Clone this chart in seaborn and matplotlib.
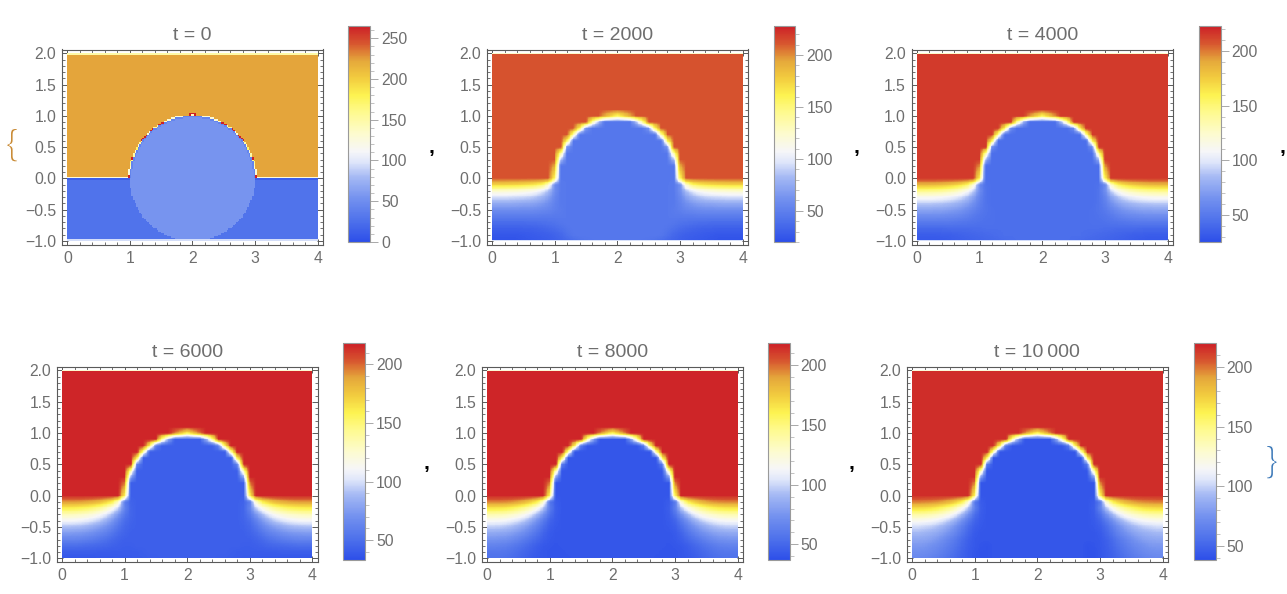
import numpy as np
import pandas as pd
import seaborn as sns
import matplotlib
matplotlib.use("Agg")
import matplotlib.pyplot as plt
import matplotlib.patheffects as pe
from matplotlib.colors import LinearSegmentedColormap

# ---------- values ----------
TITLES = ["t = 0", "t = 2000", "t = 4000", "t = 6000", "t = 8000", "t = 10\u2009000"]
VMIN = [0, 20, 25, 33, 37, 38]
VMAX = [265, 228, 223, 218, 218, 220]
CBAR_TICKS = [[0, 50, 100, 150, 200, 250], [50, 100, 150, 200], [50, 100, 150, 200],
              [50, 100, 150, 200], [50, 100, 150, 200], [50, 100, 150, 200]]
X_TICKS = [0, 1, 2, 3, 4]
Y_TICKS = [-1.0, -0.5, 0.0, 0.5, 1.0, 1.5, 2.0]
Y_LABELS = ["\u22121.0", "\u22120.5", "0.0", "0.5", "1.0", "1.5", "2.0"]

# t = 0 field
T0_TOP, T0_CIRCLE, T0_BOTTOM = 223, 55, 27
# half width of the disc for each 0.025-high row, from y = 0.9875 down to y = 0.0125
T0_HALF = [.158, .271, .348, .409, .461, .506, .546, .583, .616, .647,
           .675, .702, .726, .749, .770, .790, .809, .827, .843, .859,
           .873, .887, .899, .911, .922, .932, .941, .950, .958, .965,
           .971, .977, .982, .987, .990, .994, .996, .998, .999, 1.0]
# value of the thin rim, per 0.05-high row from y = 0.975 down
T0_RIM = [130, 130, 265, 150, 265, 125, 265, 265, 150, 130,
          170, 130, 150, 265, 160, 150, 130, 130, 130, 265]

# later fields: hot fraction (0-9) from y = 2.0 to y = 0.0, x = 0 to 2, mirrored about x = 2
UPPER_SHAPE = [
    "999999999999999999999", "999999999999999999999", "999999999999999999999",
    "999999999999999999999", "999999999999999999999", "999999999999999999999",
    "999999999999999999999", "999999999999999999999", "999999999999999999999",
    "999999999999999999999",
    "999999999999999999876",
    "999999999999999952000",
    "999999999999996100000",
    "999999999999950000000",
    "999999999999600000000",
    "999999999999100000000",
    "999999999995000000000",
    "999999999992000000000",
    "999999999980000000000",
    "999999999970000000000",
    "999999999960000000000",
]
HOT = [None, 212, 215, 216, 216, 216]
COLD = [None, 45, 43, 42, 41, 42]
# rows y = -0.1 ... -1.0, x = 0, 0.1, ...; anything not listed is the disc's cold value
LOWER_2000 = [
    [175, 175, 175, 174, 173, 171, 168, 163, 155, 125, 60, 46],
    [125, 125, 124, 123, 122, 119, 116, 110, 100, 85, 60, 46],
    [95, 95, 95, 94, 93, 92, 90, 86, 80, 70, 55, 46],
    [75, 75, 75, 75, 74, 73, 72, 70, 66, 60, 52, 46],
    [60, 60, 60, 60, 60, 59, 59, 58, 56, 54, 50, 47],
    [48, 48, 48, 48, 48, 48, 48, 48, 47, 47, 46, 46],
    [38, 38, 38, 38, 38, 38, 39, 39, 40, 41, 42, 44],
    [30, 30, 30, 30, 30, 31, 31, 32, 33, 35, 37, 40, 43],
    [25, 25, 25, 25, 25, 26, 27, 28, 29, 30, 32, 35, 40, 44],
    [22, 22, 22, 22, 23, 24, 25, 26, 27, 28, 30, 32, 35, 38, 41, 43, 44],
]
LOWER_4000 = [
    [185, 185, 185, 184, 182, 179, 175, 168, 157, 125, 60, 45],
    [145, 145, 144, 143, 141, 137, 132, 124, 112, 93, 62, 46],
    [112, 112, 112, 111, 109, 106, 102, 96, 87, 74, 56, 46],
    [90, 90, 90, 89, 88, 86, 83, 79, 73, 64, 53, 46],
    [75, 75, 75, 74, 74, 72, 70, 67, 62, 56, 50, 46, 44],
    [62, 62, 62, 62, 61, 60, 59, 57, 54, 50, 47, 45, 44],
    [50, 50, 50, 50, 50, 50, 49, 48, 47, 46, 45, 44, 44],
    [40, 40, 40, 40, 40, 41, 41, 41, 41, 42, 42, 43, 43],
    [33, 33, 33, 33, 34, 34, 35, 36, 37, 38, 39, 40, 41, 42],
    [30, 30, 30, 30, 31, 32, 33, 34, 35, 36, 37, 38, 39, 40, 41, 42],
]
LOWER_6000 = [
    [190, 190, 190, 189, 187, 184, 179, 170, 158, 125, 60, 44],
    [160, 160, 159, 157, 154, 149, 142, 131, 116, 95, 62, 45],
    [132, 132, 131, 129, 126, 121, 114, 104, 90, 73, 55, 45],
    [110, 110, 109, 107, 104, 99, 93, 84, 73, 60, 49, 44],
    [90, 90, 89, 88, 85, 81, 76, 70, 62, 53, 46, 43],
    [75, 75, 74, 73, 71, 68, 64, 60, 54, 48, 44],
    [62, 62, 62, 61, 59, 57, 54, 51, 47, 44],
    [50, 50, 50, 49, 48, 47, 46, 45, 43, 42, 41, 41],
    [41, 41, 41, 41, 41, 41, 40, 40, 40, 40, 40, 40, 40, 41],
    [37, 37, 37, 37, 37, 37, 38, 38, 38, 39, 39, 39, 40, 40, 41, 41],
]
LOWER_8000 = [
    [195, 195, 195, 194, 192, 188, 182, 172, 159, 125, 60, 44],
    [165, 165, 164, 162, 158, 152, 144, 133, 117, 95, 62, 45],
    [137, 137, 136, 134, 130, 125, 117, 106, 91, 74, 55, 44],
    [114, 114, 113, 111, 107, 102, 95, 85, 73, 60, 48, 43],
    [97, 97, 96, 94, 91, 86, 80, 72, 63, 53, 45, 42],
    [84, 84, 83, 82, 79, 75, 70, 63, 56, 48, 43],
    [74, 74, 73, 72, 69, 65, 60, 55, 50, 45, 42],
    [65, 65, 64, 63, 60, 57, 53, 49, 45, 42, 41, 40],
    [58, 58, 58, 57, 55, 52, 49, 46, 43, 41, 40, 40, 40],
    [55, 55, 55, 54, 52, 50, 47, 44, 42, 41, 40, 40, 40, 40],
]
LOWER_10000 = [
    [198, 198, 197, 196, 194, 190, 184, 174, 160, 125, 62, 45],
    [170, 170, 169, 167, 162, 155, 147, 135, 118, 95, 65, 46],
    [142, 142, 141, 138, 134, 128, 120, 108, 92, 74, 55, 45],
    [118, 118, 116, 114, 110, 104, 96, 86, 73, 60, 49, 44],
    [102, 102, 100, 98, 94, 89, 82, 73, 63, 53, 46, 43],
    [92, 92, 90, 88, 85, 80, 74, 67, 58, 50, 44],
    [84, 84, 83, 81, 77, 72, 66, 60, 53, 47, 43],
    [78, 78, 77, 74, 71, 67, 62, 57, 51, 46, 43, 41, 40],
    [73, 73, 72, 70, 67, 63, 59, 54, 49, 45, 42, 40, 40],
    [69, 69, 68, 66, 63, 60, 56, 52, 48, 45, 42, 40, 40],
]
LOWER = [None, LOWER_2000, LOWER_4000, LOWER_6000, LOWER_8000, LOWER_10000]
EDGE_TOP, EDGE_BOTTOM = 125, 95   # the pale line along the first and last row of each field

# ---------- styles ----------
W, H = 1287, 594
TEXT = "#6e6e6e"
FRAME = "#5a5a5a"
STOPS = [(0, "#2d4fe9"), (.1, "#4f72eb"), (.2, "#7391ef"), (.3, "#a5b9f4"), (.37, "#dfe6fa"),
         (.42, "#f6f6f8"), (.5, "#fdfbcf"), (.6, "#fefa8f"), (.68, "#fdf351"), (.76, "#f2cc3f"),
         (.84, "#e5a83b"), (.92, "#d7562f"), (1, "#cd2027")]
TEMP = LinearSegmentedColormap.from_list("temperature", STOPS)
# frame left, right, top, bottom, colour bar left, right, top, bottom (pixels)
LAYOUT = [
    (62, 323, 49.5, 245, 348, 370, 26, 242),
    (486.7, 748, 49.5, 245, 774, 795.5, 26, 242),
    (911.5, 1173, 49.5, 245, 1199, 1220.5, 26, 242),
    (56.7, 317.7, 366.7, 562.3, 343, 365, 343.3, 560),
    (481.7, 743, 366.7, 562.3, 768, 789.5, 343.3, 560),
    (906.7, 1168, 366.7, 562.3, 1194.3, 1215.5, 343.3, 560),
]

sns.set_theme(style="white")
plt.rcParams["font.family"] = ["Liberation Sans", "DejaVu Sans"]


def rect(l, r, t, b):
    return [l / W, 1 - b / H, (r - l) / W, (b - t) / H]


def field_t0():
    rows, cols = 120, 160
    rim = np.repeat(T0_RIM, 2)
    n = np.round(np.asarray(T0_HALF) / 0.025).astype(int)
    z = np.full((rows, cols), float(T0_TOP))
    z[80:, :] = T0_BOTTOM               # below y = 0
    z[79, :] = 125                      # bright line on y = 0
    z[80, :] = 12                       # dark line just under it
    disc = np.zeros((rows, cols), bool)
    for k, m in enumerate(n):
        disc[40 + k, 80 - m:80 + m] = True
        disc[119 - k, 80 - m:80 + m] = True
    near = (np.roll(disc, 1, 0) | np.roll(disc, -1, 0) | np.roll(disc, 1, 1) | np.roll(disc, -1, 1))
    inner = (np.roll(disc, 1, 0) & np.roll(disc, -1, 0) & np.roll(disc, 1, 1) & np.roll(disc, -1, 1))
    outline = near & ~disc
    z[disc] = T0_CIRCLE
    for k in range(40):
        z[40 + k][outline[40 + k]] = rim[k]
        z[40 + k][(disc & ~inner)[40 + k]] = 42
    z[38:40, 78:82] = 265               # bump at the top of the disc
    z[39, 79:81] = 140
    z[0, :] = 150
    z[-1, :] = EDGE_BOTTOM
    return z


def field(i):
    upper = np.array([[int(c) for c in row] for row in UPPER_SHAPE], float) / 9
    half_up = COLD[i] + upper * (HOT[i] - COLD[i])
    half_low = np.full((10, 21), float(COLD[i]))
    for k, row in enumerate(LOWER[i]):
        half_low[k, :len(row)] = row
    nodes = np.vstack([half_up, half_low])
    nodes = np.hstack([nodes, nodes[:, -2::-1]])
    # the colour scale is applied after a smooth resampling of the nodes, on a 0.0125 grid
    xn, yn = np.linspace(0, 4, 41), np.linspace(0, 30, 31)
    xf = (np.arange(320) + .5) / 80
    yf = (np.arange(240) + .5) / 8
    z = np.array([np.interp(xf, xn, r) for r in nodes])
    z = np.array([np.interp(yf, yn, c) for c in z.T]).T
    z[0, :] = EDGE_TOP
    z[-1, :] = EDGE_BOTTOM
    return z


fig = plt.figure(figsize=(W / 100, H / 100), dpi=100, facecolor="white")
for i, (l, r, t, b, cl, cr, ct, cb) in enumerate(LAYOUT):
    ax = fig.add_axes(rect(l, r, t, b))
    cax = fig.add_axes(rect(cl, cr, ct, cb))
    z = field_t0() if i == 0 else field(i)
    nr, nc = z.shape
    sns.heatmap(pd.DataFrame(z), ax=ax, cbar_ax=cax, cmap=TEMP, vmin=VMIN[i], vmax=VMAX[i],
                xticklabels=False, yticklabels=False, linewidths=0)
    fx = lambda v: np.asarray(v) / 4 * nc
    fy = lambda v: (2 - np.asarray(v)) / 3 * nr
    ax.set_xlim(fx(-0.085), fx(4.085))
    ax.set_ylim(fy(-1.064), fy(2.06))
    ax.set_xticks(fx(X_TICKS), [str(v) for v in X_TICKS])
    ax.set_yticks(fy(Y_TICKS), Y_LABELS)
    ax.set_xticks(fx(np.arange(0, 4.01, .2)), minor=True)
    ax.set_yticks(fy(np.arange(-1, 2.01, .1)), minor=True)
    ax.tick_params(which="major", direction="in", length=4, width=.7, color=FRAME, top=True, right=True,
                   bottom=True, left=True, labelsize=11.3, labelcolor=TEXT, pad=4,
                   labelrotation=0)
    ax.tick_params(which="minor", direction="in", length=2, width=.6, color=FRAME, top=True, right=True,
                   bottom=True, left=True)
    for s in ax.spines.values():
        s.set_visible(True)
        s.set_color(FRAME)
        s.set_linewidth(.8)
    ax.set_title(TITLES[i], fontsize=14, color=TEXT, pad=7)
    ax.set_xlabel("")
    ax.set_ylabel("")
    bar = ax.collections[0].colorbar
    bar.set_ticks(CBAR_TICKS[i])
    bar.set_ticklabels([str(v) for v in CBAR_TICKS[i]])
    bar.outline.set_linewidth(.8)
    bar.outline.set_edgecolor("#9a9a9a")
    cax.set_yticks(np.arange(np.ceil(VMIN[i] / 10) * 10, VMAX[i], 10), minor=True)
    cax.tick_params(which="major", length=6, width=.7, color="#a8a8a8", labelsize=11.3, labelcolor=TEXT,
                    pad=2, right=True, left=False)
    cax.tick_params(which="minor", length=3, width=.6, color="#b8b8b8", right=True, left=False)

# list punctuation of the notebook cell
for x, y in [(431, 147), (856, 147), (1282, 147), (426, 464), (851, 464)]:
    fig.text(x / W, 1 - y / H, ",", color="black", fontsize=15, fontweight="bold", ha="center", va="center")
thin = [pe.Normal(), pe.Stroke(linewidth=1.0, foreground="white")]
fig.text(12 / W, 1 - 145 / H, "{", color="#c98a34", fontsize=26, ha="center", va="center", path_effects=thin)
fig.text(1272 / W, 1 - 462 / H, "}", color="#3b78b8", fontsize=26, ha="center", va="center", path_effects=thin)

fig.savefig("out.png", dpi=100)
